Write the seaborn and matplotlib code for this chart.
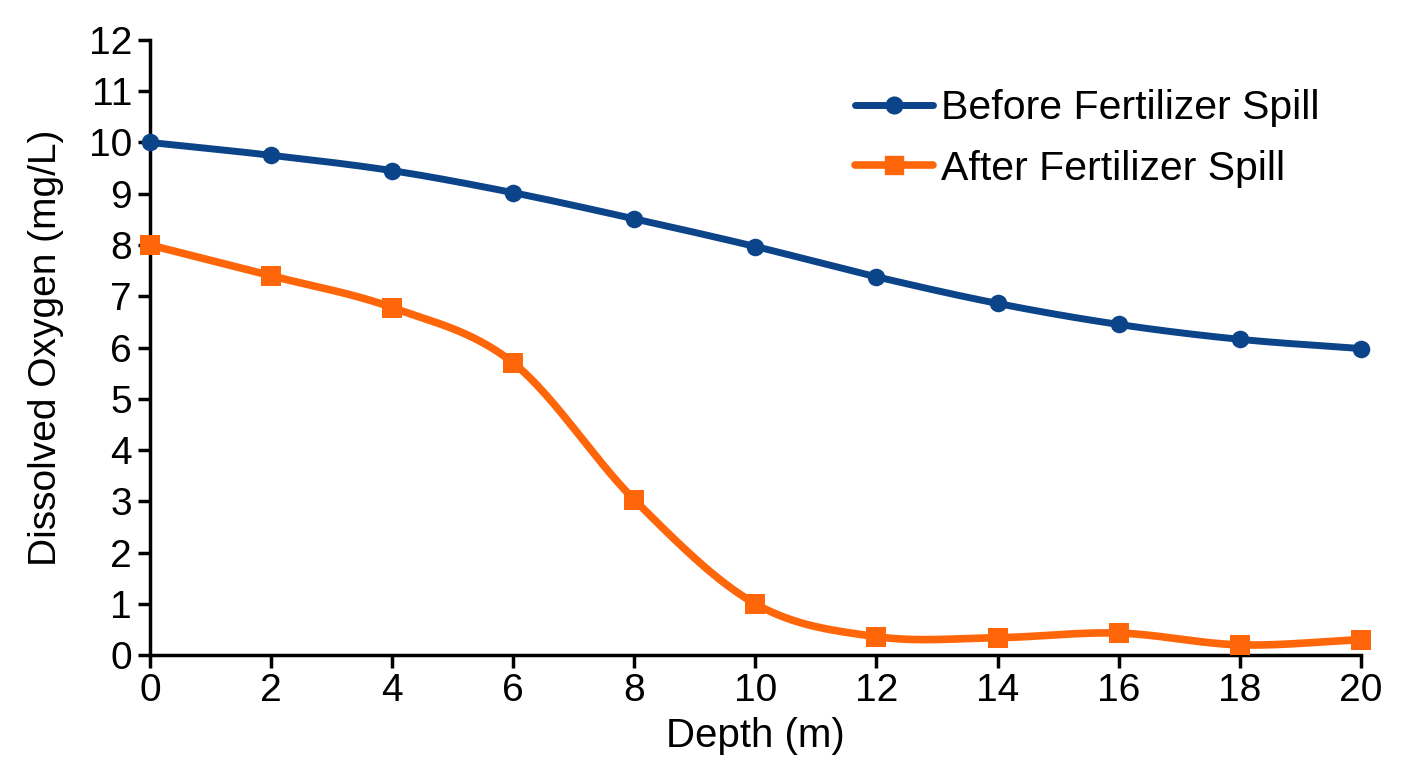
import numpy as np
import pandas as pd
import matplotlib
matplotlib.use("Agg")
import matplotlib.pyplot as plt
import seaborn as sns
from matplotlib.lines import Line2D

depth = [0, 2, 4, 6, 8, 10, 12, 14, 16, 18, 20]
before_spill = [10.0, 9.75, 9.45, 9.02, 8.51, 7.97, 7.38, 6.86, 6.45, 6.16, 5.98]
after_spill = [8.0, 7.4, 6.78, 5.7, 3.03, 1.0, 0.36, 0.34, 0.43, 0.2, 0.3]
series_names = ["Before Fertilizer Spill", "After Fertilizer Spill"]

BLUE = "#0b4488"
ORANGE = "#ff660a"


def smooth_curve(x, y, steps=30):
    """Catmull-Rom style smoothing, like a spreadsheet 'smoothed line'."""
    x = np.asarray(x, float)
    y = np.asarray(y, float)
    px = np.concatenate([[2 * x[0] - x[1]], x, [2 * x[-1] - x[-2]]])
    py = np.concatenate([[2 * y[0] - y[1]], y, [2 * y[-1] - y[-2]]])
    xs, ys = [], []
    t = np.linspace(0, 1, steps, endpoint=False)
    for i in range(1, len(px) - 2):
        for arr, pts in ((xs, px), (ys, py)):
            a0, a1, a2, a3 = pts[i - 1], pts[i], pts[i + 1], pts[i + 2]
            arr.extend(0.5 * (2 * a1 + (-a0 + a2) * t
                              + (2 * a0 - 5 * a1 + 4 * a2 - a3) * t ** 2
                              + (-a0 + 3 * a1 - 3 * a2 + a3) * t ** 3))
    xs.append(x[-1])
    ys.append(y[-1])
    return np.array(xs), np.array(ys)


sns.set_style("ticks")
plt.rcParams["font.family"] = ["Liberation Sans", "DejaVu Sans"]
plt.rcParams["text.color"] = "black"
plt.rcParams["axes.labelcolor"] = "black"
plt.rcParams["xtick.color"] = "black"
plt.rcParams["ytick.color"] = "black"

fig = plt.figure(figsize=(14.08, 7.68), dpi=100)
ax = fig.add_axes([0.1065, 0.147, 0.86, 0.801])

for vals, color, marker, msize, lw in ((before_spill, BLUE, "o", 160, 5),
                                       (after_spill, ORANGE, "s", 220, 5.5)):
    sx, sy = smooth_curve(depth, vals)
    sns.lineplot(x=sx, y=sy, ax=ax, color=color, linewidth=lw, sort=False,
                 estimator=None, legend=False)
    sns.scatterplot(x=depth, y=vals, ax=ax, color=color, marker=marker,
                    s=msize, linewidth=0, legend=False, zorder=3, clip_on=False)

ax.set_xlim(0, 20)
ax.set_ylim(0, 12)
ax.set_xticks(range(0, 21, 2))
ax.set_yticks(range(0, 13))
ax.tick_params(axis="both", labelsize=28, width=2.5, length=9, color="black",
               direction="out", pad=4)
for side in ("left", "bottom"):
    ax.spines[side].set_linewidth(2.5)
    ax.spines[side].set_color("black")
sns.despine(ax=ax)

ax.set_xlabel("Depth (m)", fontsize=29, labelpad=6)
ax.set_ylabel("Dissolved Oxygen (mg/L)", fontsize=28, labelpad=18)

handles = [
    Line2D([], [], color=BLUE, lw=5, marker="o", markersize=12),
    Line2D([], [], color=ORANGE, lw=5.5, marker="s", markersize=13),
]
ax.legend(handles, series_names, loc="upper left",
          bbox_to_anchor=(855 / 1408, 1 - 89 / 768), bbox_transform=fig.transFigure,
          borderaxespad=0, borderpad=0, frameon=False, fontsize=29.5,
          handlelength=1.9, handletextpad=0.2, labelspacing=0.55)

fig.savefig("out.png", dpi=100)
plt.close(fig)
